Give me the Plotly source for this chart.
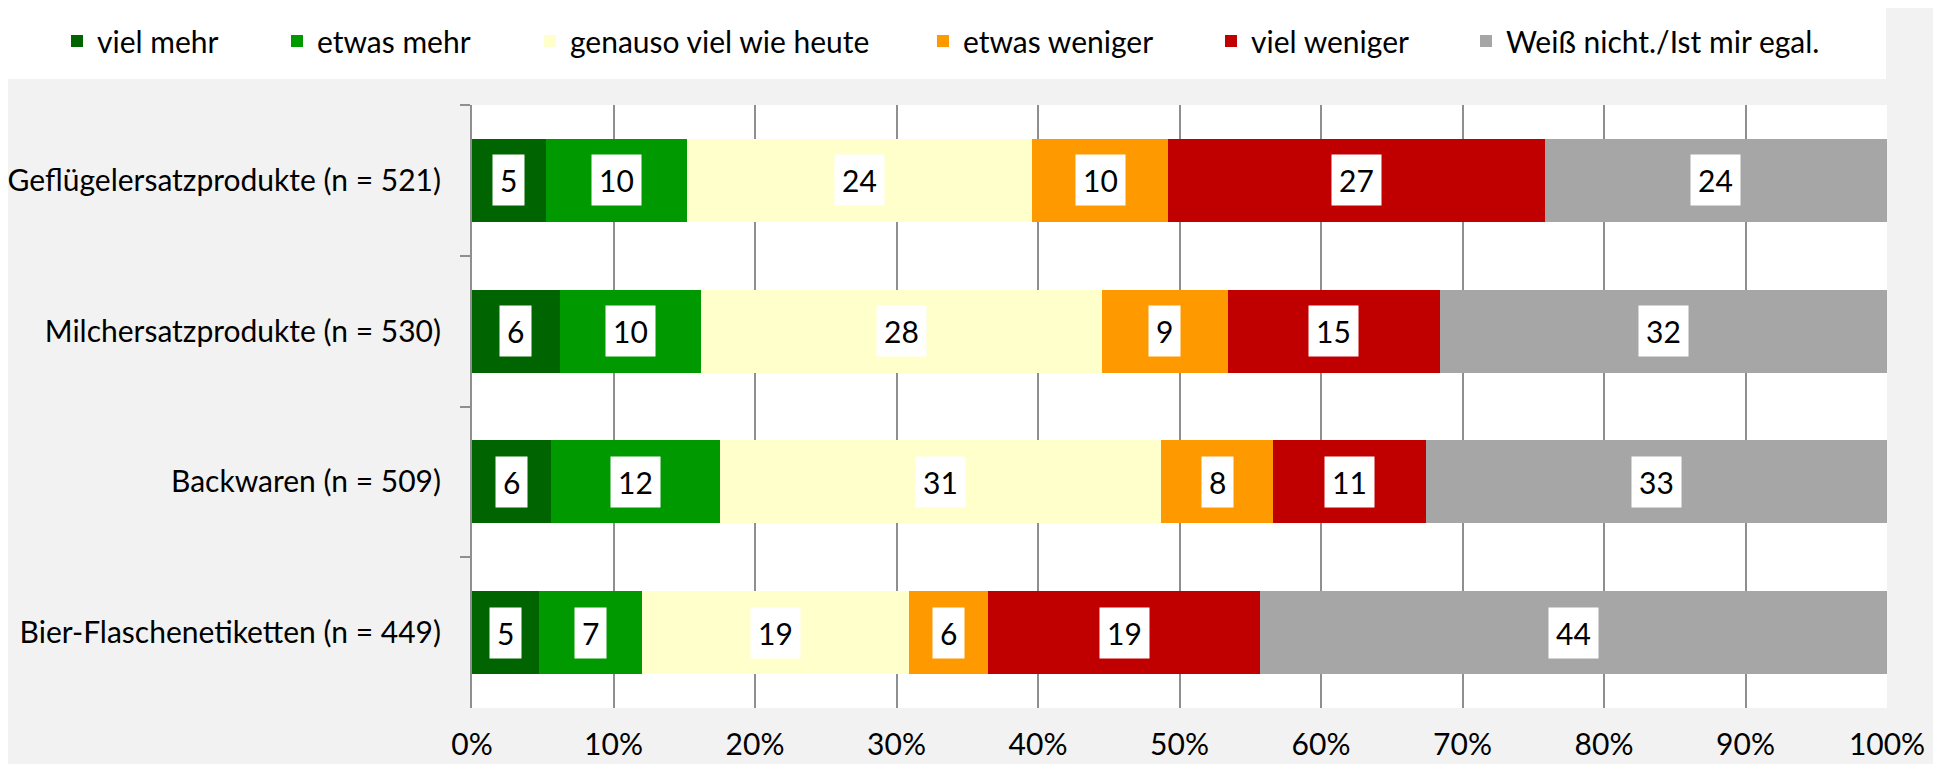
import plotly.graph_objects as go

# ============================================================
# Data (percent of respondents)
# ============================================================

categories = [
    'Geflügelersatzprodukte (n = 521)',
    'Milchersatzprodukte (n = 530)',
    'Backwaren (n = 509)',
    'Bier-Flaschenetiketten (n = 449)',
]

series_names = [
    'viel mehr',
    'etwas mehr',
    'genauso viel wie heute',
    'etwas weniger',
    'viel weniger',
    'Weiß nicht./Ist mir egal.',
]

viel_mehr = [5.2, 6.2, 5.6, 4.7]
etwas_mehr = [10.0, 10.0, 11.9, 7.3]
genauso_viel = [24.4, 28.3, 31.2, 18.9]
etwas_weniger = [9.6, 8.9, 7.9, 5.6]
viel_weniger = [26.6, 15.0, 10.8, 19.2]
weiss_nicht = [24.2, 31.6, 32.6, 44.3]

series_values = [viel_mehr, etwas_mehr, genauso_viel,
                 etwas_weniger, viel_weniger, weiss_nicht]

x_ticks = [0, 10, 20, 30, 40, 50, 60, 70, 80, 90, 100]
x_ticktext = [f'{t}%' for t in x_ticks]

# ============================================================
# Style
# ============================================================

colors = ['#006400', '#009900', '#ffffcc', '#ff9900', '#c00000', '#a6a6a6']
legend_widths = [175, 208, 348, 243, 210, 345]   # px per legend entry
font_family = 'Lato'
font_size = 30
grid_color = '#8f8f8f'

# the page body keeps an 8px margin, so the figure is 8px smaller than the window
fig_w, fig_h = 1933, 756

# ============================================================
# Figure
# ============================================================

fig = go.Figure()

for name, vals, col, lw in zip(series_names, series_values, colors, legend_widths):
    fig.add_trace(go.Bar(
        y=categories, x=vals,
        name=name,
        orientation='h',
        marker=dict(color=col, line=dict(width=0)),
        legendwidth=lw,
        hoverinfo='skip',
    ))

# data labels in white boxes, centred in each segment
annotations = []
for i, cat in enumerate(categories):
    left = 0.0
    for vals in series_values:
        v = vals[i]
        annotations.append(dict(
            x=left + v / 2, y=cat,
            xref='x', yref='y',
            text=f'{v:.0f}',
            showarrow=False,
            bgcolor='white',
            borderpad=7,
            font=dict(family=font_family, size=font_size, color='black'),
        ))
        left += v

fig.update_layout(
    barmode='stack',
    bargap=0.45,
    width=fig_w, height=fig_h,
    margin=dict(l=464, r=54, t=97, b=56, autoexpand=False),
    paper_bgcolor='#f2f2f2',
    plot_bgcolor='white',
    font=dict(family=font_family, size=font_size, color='black'),
    showlegend=True,
    legend=dict(
        orientation='h',
        x=-0.2933, xanchor='left',
        y=1.1061, yanchor='middle',
        bgcolor='rgba(0,0,0,0)',
        font=dict(family=font_family, size=font_size, color='black'),
        traceorder='normal',
    ),
    xaxis=dict(
        range=[0, 100],
        tickmode='array',
        tickvals=x_ticks,
        ticktext=x_ticktext,
        showgrid=True, gridcolor=grid_color, gridwidth=2,
        showline=False, zeroline=False,
        ticks='',
        ticklabelstandoff=16,
        automargin=False,
        fixedrange=True,
    ),
    xaxis2=dict(
        overlaying='x', side='top',
        range=[0, 100],
        tickmode='array',
        tickvals=x_ticks,
        showticklabels=False,
        showgrid=False, zeroline=False,
        showline=True, linecolor=grid_color, linewidth=2,
        ticks='outside', ticklen=10, tickwidth=2, tickcolor=grid_color,
        automargin=False,
    ),
    yaxis=dict(
        autorange='reversed',
        showgrid=False,
        showline=True, linecolor=grid_color, linewidth=2,
        ticks='outside', tickson='boundaries', ticklen=10,
        tickwidth=2, tickcolor=grid_color,
        ticklabelstandoff=23,
        automargin=False,
    ),
    annotations=annotations,
    shapes=[dict(
        type='rect', xref='paper', yref='paper',
        x0=-0.3336, x1=0.9993, y0=1.0431, y1=1.1675,
        fillcolor='white', line=dict(width=0), layer='below',
    )],
)

fig.write_html('out.html')
